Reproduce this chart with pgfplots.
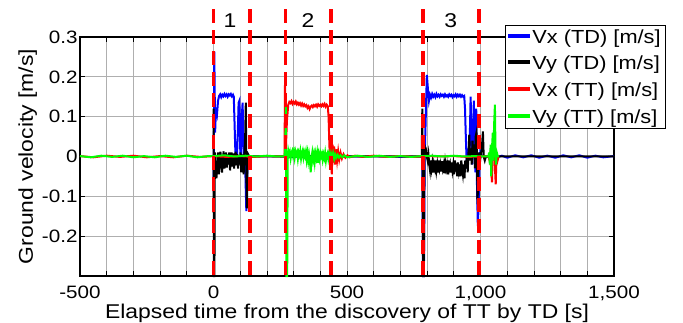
\documentclass[border=0pt]{standalone}
\usepackage{pgfplots}
\pgfplotsset{compat=1.18}
\usepackage{fontspec}
\setmainfont[FakeStretch=1.15]{Liberation Sans}
\definecolor{mblue}{RGB}{0,0,255}
\definecolor{mred}{RGB}{255,0,0}
\definecolor{mgreen}{RGB}{0,255,0}
\definecolor{mgrid}{RGB}{175,175,175}
\begin{document}
\begin{tikzpicture}[font=\fontsize{18}{22}\selectfont]
\begin{axis}[
  name=ax,
  scale only axis,
  width=534bp, height=239bp,
  xmin=-500, xmax=1500, ymin=-0.3, ymax=0.3,
  xtick={-500,0,500,1000,1500},
  xticklabels={-500,0,500,{1,000},{1,500}},
  minor xtick={-400,-300,-200,-100,100,200,300,400,600,700,800,900,1100,1200,1300,1400},
  ytick={-0.2,-0.1,0,0.1,0.2,0.3},
  yticklabels={-0.2,-0.1,0,0.1,0.2,0.3},
  tick label style={font=\fontsize{18}{22}\selectfont},
  label style={font=\fontsize{20}{24}\selectfont},
  tick align=inside,
  major tick length=5bp, minor tick length=5bp,
  grid=both,
  major grid style={mgrid, line width=0.8bp},
  minor grid style={mgrid, line width=0.8bp},
  axis line style={line width=1.2bp},
  every tick/.style={black, line width=0.8bp},
  xlabel={Elapsed time from the discovery of TT by TD [s]},
  ylabel={Ground velocity [m/s]},
  xlabel style={yshift=3bp},
  ylabel style={yshift=-2bp},
  xticklabel style={yshift=-6bp},
  yticklabel style={xshift=1bp},
  clip=false,
  legend cell align=left,
  legend style={at={(0.796,1.05)}, anchor=north west, draw=black, line width=0.8bp,
    inner xsep=3bp, inner ysep=2bp, row sep=7.5bp, fill=white,
    font=\fontsize{19}{23}\selectfont},
  legend image code/.code={\fill[#1] (0bp,0.5bp) rectangle (20bp,2.5bp);},
  every axis plot/.append style={line width=2bp},
]
\addlegendimage{mblue}
\addlegendentry{Vx (TD) [m/s]}
\addlegendimage{black}
\addlegendentry{Vy (TD) [m/s]}
\addlegendimage{mred}
\addlegendentry{Vx (TT) [m/s]}
\addlegendimage{mgreen}
\addlegendentry{Vy (TT) [m/s]}
\addplot[mblue, forget plot] coordinates {
(0,0) (1,-0.09) (3,0.263) (6,0.06) (9,0.115) (13,0.105) (17,0.14) (21,0.152) (25,0.156) (29,0.149) (33,0.155) (37,0.151) (41,0.157) (45,0.152) (49,0.156) (53,0.15) (57,0.156) (61,0.153) (65,0.157) (69,0.151) (73,0.155) (76,0.15) (79,0.08) (82,0.01) (85,-0.02) (88,0.0) (91,0.06) (94,0.135) (97,0.14) (100,0.02) (103,-0.01) (106,0.1) (109,0.135) (112,0.04) (115,-0.01) (118,0.03) (120,-0.06) (123,-0.137) (126,-0.05) (129,0.005) (133,0) (200,0.001) (300,-0.001) (400,0.001) (500,0) (600,0.001) (700,-0.001) (782,0) (785,-0.3) (788,-0.3) (791,0.0) (795,0.1) (799,0.205) (803,0.17) (807,0.14) (811,0.155) (815,0.148) (819,0.157) (823,0.15) (827,0.155) (831,0.149) (835,0.157) (839,0.151) (843,0.155) (847,0.15) (851,0.156) (855,0.152) (859,0.155) (863,0.15) (867,0.156) (871,0.151) (875,0.154) (879,0.15) (883,0.156) (887,0.152) (891,0.155) (895,0.149) (899,0.154) (903,0.151) (907,0.156) (911,0.15) (915,0.155) (919,0.151) (923,0.155) (927,0.15) (931,0.154) (935,0.15) (939,0.152) (942,0.12) (945,0.05) (948,-0.01) (951,-0.03) (954,0.02) (957,0.0) (960,0.05) (963,0.15) (966,0.06) (969,-0.02) (972,0.03) (975,0.14) (978,0.02) (981,-0.04) (984,0.12) (987,-0.08) (990,-0.175) (993,-0.12) (996,-0.03) (999,0.01) (1003,0) (1010,0.003) (1020,-0.002) (1040,0.003) (1060,-0.003) (1080,0.002) (1100,-0.003) (1130,0.003) (1160,-0.002) (1190,0.003) (1220,-0.003) (1250,0.002) (1280,-0.003) (1310,0.003) (1340,-0.002) (1370,0.003) (1400,-0.003) (1430,0.002) (1460,-0.002) (1500,0.001)
};
\addplot[black, forget plot] coordinates {
(0,0.12) (1.5,-0.3) (3.5,-0.3) (5,0.01) (8,-0.03) (11,-0.055) (14,-0.02) (17,0.01) (20,-0.045) (23,-0.015) (26,0.012) (29,-0.02) (32,-0.04) (35,-0.01) (38,0.013) (41,-0.03) (44,-0.015) (47,0.01) (50,-0.028) (53,0.005) (56,-0.02) (59,0.01) (62,-0.035) (65,-0.005) (68,0.01) (71,-0.025) (74,0.008) (77,-0.03) (80,-0.005) (83,0.012) (86,-0.022) (89,0.006) (92,-0.03) (95,0.0) (98,-0.02) (101,0.01) (104,-0.04) (107,-0.01) (110,0.005) (113,-0.045) (116,0.01) (119,0.06) (121,0.135) (123,-0.04) (125,-0.13) (127,-0.03) (130,0.005) (134,0) (200,0) (400,0) (600,0) (780,0) (782,0.12) (785,-0.3) (788,-0.3) (790,0.03) (793,0.01) (796,0.015) (799,0.0) (802,-0.01) (805,0.005) (808,-0.02) (811,-0.035) (814,-0.01) (817,-0.03) (820,-0.015) (823,-0.04) (826,-0.02) (829,-0.03) (832,-0.01) (835,-0.035) (838,-0.02) (841,-0.04) (844,-0.01) (847,-0.03) (850,-0.02) (853,-0.038) (856,-0.012) (859,-0.03) (862,-0.02) (865,-0.042) (868,-0.015) (871,-0.03) (874,-0.02) (877,-0.045) (880,-0.01) (883,-0.03) (886,-0.02) (889,-0.04) (892,-0.015) (895,-0.035) (898,-0.02) (901,-0.045) (904,-0.01) (907,-0.03) (910,-0.025) (913,-0.05) (916,-0.015) (919,-0.035) (922,-0.02) (925,-0.05) (928,-0.01) (931,-0.03) (934,-0.045) (937,-0.02) (940,-0.055) (943,-0.01) (946,-0.03) (949,0.0) (952,-0.04) (955,0.01) (958,0.055) (961,-0.01) (964,0.02) (967,-0.02) (970,0.04) (973,0.0) (976,0.03) (979,-0.03) (982,0.05) (985,0.06) (987,-0.02) (989,-0.12) (991,-0.05) (994,0.01) (997,-0.02) (1000,0.0) (1005,0.02) (1009,0.063) (1012,0.0) (1016,-0.01) (1020,0.0) (1500,0)
};
\addplot[mred, forget plot] coordinates {
(-500,0.001) (-450,-0.002) (-400,0.002) (-350,-0.001) (-300,0.002) (-250,-0.002) (-200,0.001) (-150,-0.002) (-100,0.002) (-50,-0.001) (0,0.001) (50,-0.001) (100,0.001) (150,-0.001) (200,0.001) (260,0) (266,0.0) (268,0.2) (271,0.02) (275,0.09) (280,0.13) (284,0.137) (288,0.134) (292,0.139) (296,0.132) (300,0.137) (304,0.133) (308,0.138) (312,0.131) (316,0.135) (320,0.13) (324,0.134) (328,0.128) (332,0.133) (336,0.127) (340,0.131) (344,0.126) (348,0.129) (352,0.122) (356,0.126) (360,0.119) (364,0.125) (368,0.128) (372,0.124) (376,0.129) (380,0.126) (384,0.13) (388,0.125) (392,0.131) (396,0.127) (400,0.13) (404,0.126) (408,0.131) (412,0.127) (416,0.132) (420,0.125) (424,0.13) (428,0.126) (431,0.1) (434,0.03) (437,-0.02) (440,0.03) (443,-0.045) (446,0.03) (449,-0.015) (452,0.025) (455,-0.02) (459,0.018) (463,-0.01) (467,0.013) (471,-0.008) (476,0.009) (481,-0.005) (487,0.006) (494,-0.003) (502,0.003) (510,-0.002) (530,0.002) (560,-0.001) (600,0.002) (650,-0.001) (700,0.001) (750,-0.001) (800,0.001) (850,0) (900,0.001) (950,-0.001) (1000,0) (1030,0) (1034,-0.01) (1038,0.015) (1041,-0.04) (1043,-0.065) (1046,0.02) (1049,-0.01) (1052,0.03) (1055,-0.04) (1057,-0.07) (1060,0.01) (1064,-0.01) (1068,0)
};
\addplot[mgreen, forget plot] coordinates {
(-500,0.001) (-460,-0.002) (-420,0.002) (-380,-0.001) (-340,0.002) (-300,-0.002) (-260,0.001) (-220,-0.002) (-180,0.002) (-140,-0.001) (-100,0.002) (-60,-0.002) (-20,0.001) (0,0.001) (40,0.003) (80,0.0) (120,0.002) (160,0.0) (200,0.002) (240,0.0) (266,0) (269,0.03) (271,0.126) (273,-0.3) (276,-0.3) (278,0.0) (280,0.015) (283,0.005) (286,0.012) (289,-0.004) (292,0.01) (295,0.015) (298,0.002) (301,0.012) (304,-0.003) (307,0.013) (310,0.005) (313,0.011) (316,-0.006) (319,0.01) (322,0.003) (325,0.014) (328,-0.005) (331,0.008) (334,0.015) (337,-0.002) (340,0.01) (343,0.001) (346,0.012) (349,-0.008) (352,0.008) (355,-0.01) (358,0.006) (361,-0.008) (364,-0.04) (367,-0.004) (370,0.01) (373,-0.008) (376,0.005) (379,-0.014) (382,0.007) (385,-0.004) (388,0.009) (391,-0.016) (394,0.005) (397,-0.006) (400,0.009) (403,0.0) (406,0.007) (409,-0.008) (412,0.005) (415,-0.004) (418,0.009) (421,-0.01) (424,0.004) (427,0.009) (430,-0.006) (433,0.005) (436,-0.008) (440,0.007) (444,-0.005) (448,0.008) (452,-0.006) (456,0.005) (460,-0.003) (465,0.004) (470,-0.003) (476,0.003) (483,-0.002) (490,0.003) (500,-0.002) (540,0.002) (580,-0.001) (620,0.002) (660,-0.001) (700,0.001) (740,-0.001) (780,0.001) (820,0.002) (860,0.0) (900,0.002) (940,0.0) (980,0.001) (1000,0) (1030,0) (1032,0.01) (1035,-0.02) (1038,0.03) (1040,-0.05) (1043,0.02) (1046,0.06) (1048,-0.01) (1051,0.08) (1054,0.13) (1056,0.02) (1058,-0.02) (1061,0.01) (1065,0) (1070,0)
};
\addplot[mred, line width=3.8bp, dash pattern=on 14bp off 7bp, forget plot] coordinates {(0,0.37) (0,-0.3)};
\addplot[mred, line width=3.8bp, dash pattern=on 14bp off 7bp, forget plot] coordinates {(137,0.37) (137,-0.3)};
\addplot[mred, line width=3.8bp, dash pattern=on 14bp off 7bp, forget plot] coordinates {(270,0.37) (270,-0.3)};
\addplot[mred, line width=3.8bp, dash pattern=on 14bp off 7bp, forget plot] coordinates {(440,0.37) (440,-0.3)};
\addplot[mred, line width=3.8bp, dash pattern=on 14bp off 7bp, forget plot] coordinates {(786,0.37) (786,-0.3)};
\addplot[mred, line width=3.8bp, dash pattern=on 14bp off 7bp, forget plot] coordinates {(995,0.37) (995,-0.3)};
\node[font=\fontsize{20}{24}\selectfont] at (axis cs:62,0.342) {1};
\node[font=\fontsize{20}{24}\selectfont] at (axis cs:354,0.342) {2};
\node[font=\fontsize{20}{24}\selectfont] at (axis cs:889,0.342) {3};
\end{axis}
\pgfresetboundingbox
\path ([shift={(-80bp,-47bp)}]ax.south west) rectangle ([shift={(69bp,37bp)}]ax.north east);
\end{tikzpicture}
\end{document}
